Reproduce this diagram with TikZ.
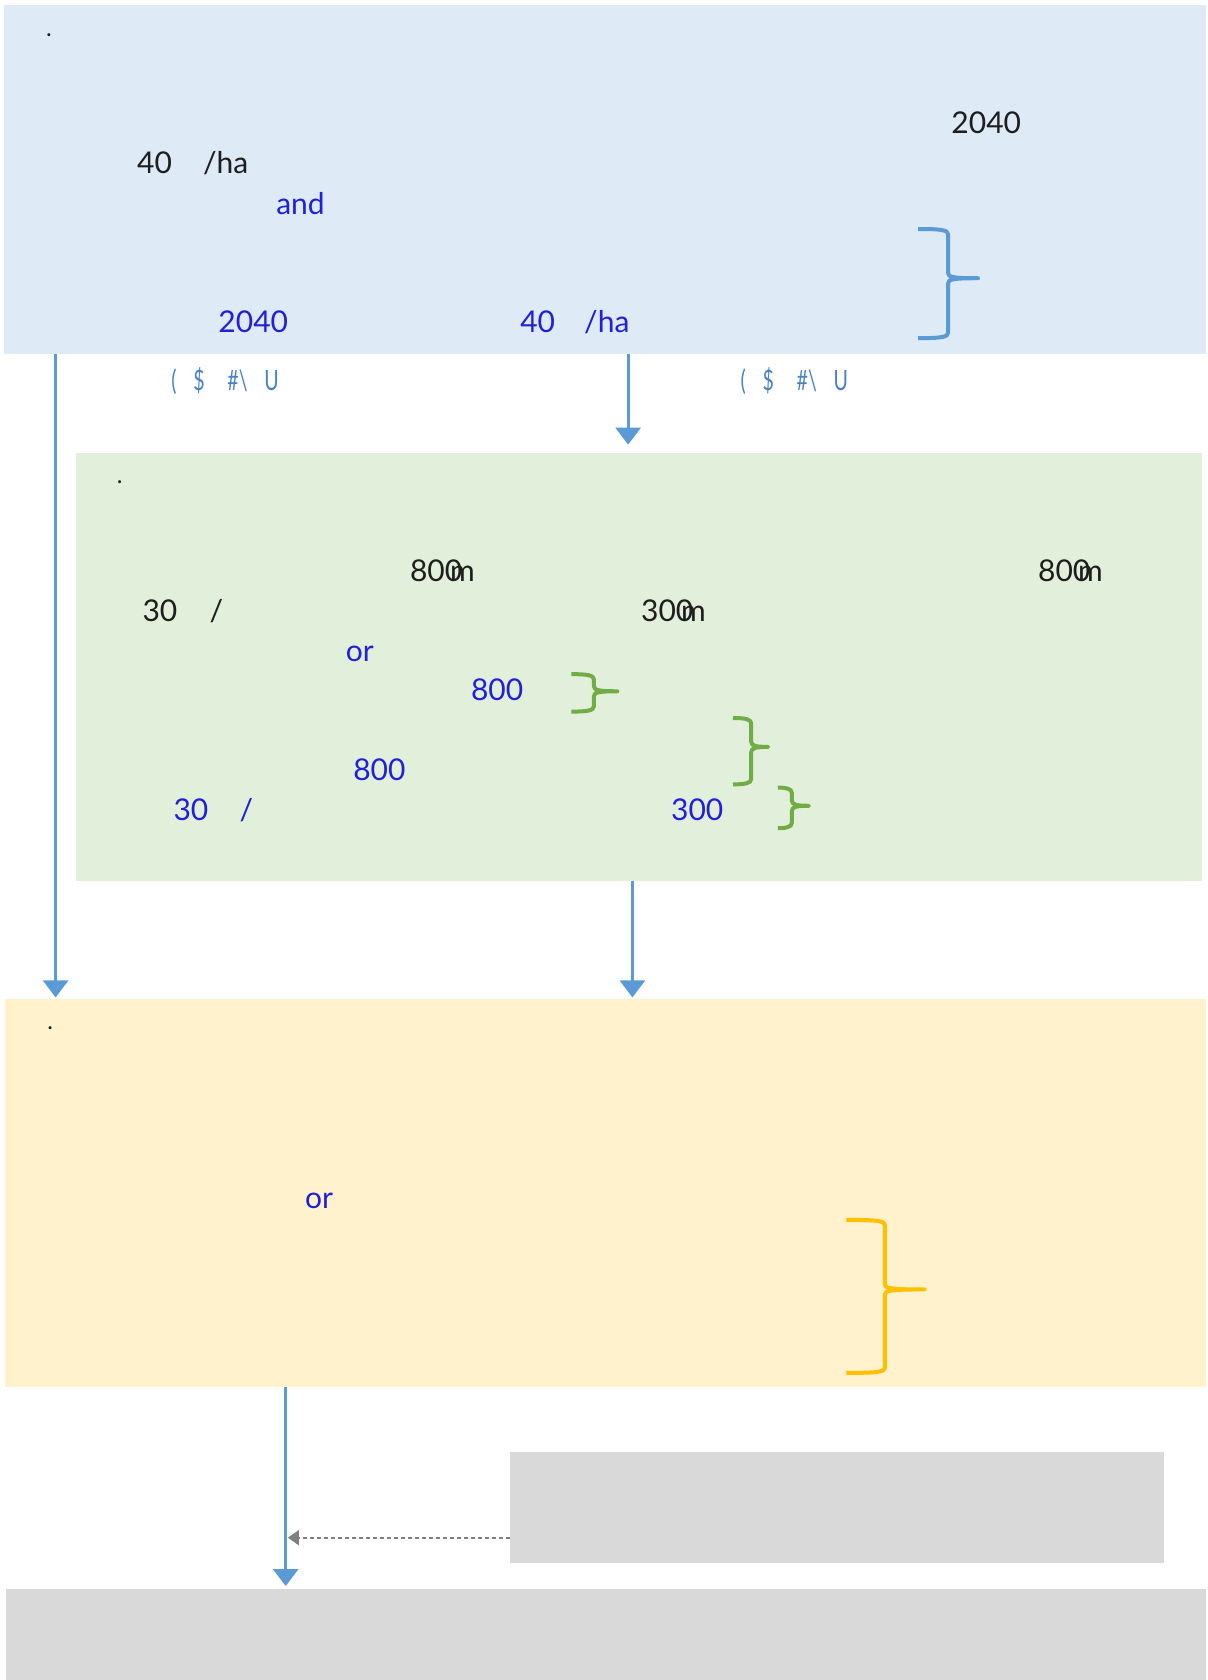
\documentclass[tikz,border=0pt]{standalone}
\usepackage{fontspec}
\setmainfont{Lato}
\usetikzlibrary{arrows.meta,fit}
\definecolor{bluebg}{RGB}{222,234,246}
\definecolor{greenbg}{RGB}{226,239,218}
\definecolor{yellowbg}{RGB}{255,242,204}
\definecolor{graybg}{RGB}{217,217,217}
\definecolor{arrowblue}{RGB}{91,155,213}
\definecolor{txtblack}{RGB}{30,30,30}
\definecolor{txtblue}{RGB}{32,32,220}
\definecolor{lblblue}{RGB}{70,130,200}
\definecolor{bracegreen}{RGB}{112,173,71}
\definecolor{braceyellow}{RGB}{255,192,0}
\newcommand\mybrace[7]{%
  \draw[bracestyle,#1] (#2,#5) .. controls ({#3-6},#5) and (#3,{#5+1}) .. (#3,{#5+5})
    -- (#3,{#6-5}) .. controls (#3,{#6-1}) and ({#3+4},#6) .. (#4,#6)
    .. controls ({#3+4},#6) and (#3,{#6+1}) .. (#3,{#6+5})
    -- (#3,{#7-5}) .. controls (#3,{#7-1}) and ({#3-6},#7) .. (#2,#7);}
\newcommand\glyphs[1]{\scalebox{0.7}[1]{#1}}
\tikzset{
  box/.style={inner sep=0pt, outer sep=0pt, draw=none},
  txt/.style={inner sep=0pt, anchor=base west, font=\fontsize{30}{34}\selectfont},
  blk/.style={txt, text=txtblack},
  blu/.style={txt, text=txtblue},
  lbl/.style={inner sep=0pt, anchor=base west, font=\fontsize{28}{32}\selectfont, text=lblblue},
  dotlbl/.style={inner sep=0pt, anchor=base west, font=\fontsize{24}{26}\selectfont, text=txtblack},
  flow/.style={draw=arrowblue, line width=3pt, -{Triangle[width=25pt,length=17pt]}},
  hint/.style={draw=gray, line width=1.6pt, dash pattern=on 4pt off 3pt, -{Triangle[width=15pt,length=11pt]}},
  bracestyle/.style={line width=4pt, line cap=butt, line join=round},
}
\begin{document}
\begin{tikzpicture}[x=1.07pt,y=-1.07pt]
\useasboundingbox (0,0) rectangle (1128,1570);
% boxes
\node[box, fill=bluebg, fit={(4,5) (1127,331)}] (b1) {};
\node[box, fill=greenbg, fit={(71,423) (1123,823)}] (b2) {};
\node[box, fill=yellowbg, fit={(5,934) (1127,1296)}] (b3) {};
\node[box, fill=graybg, fit={(477,1357) (1088,1461)}] (g1) {};
\node[box, fill=graybg, fit={(6,1485) (1127,1570)}] (g2) {};
% helper coordinates for connector columns
\coordinate (cL) at (52,0);
\coordinate (cM) at (587,0);
\coordinate (cM2) at (591,0);
\coordinate (cB) at (267,0);
\coordinate (dy) at (0,1437);
\coordinate (hit) at (269,1437);
% connectors
\draw[flow] (b1.south -| cM) -- ([yshift=8pt]b2.north -| cM);
\draw[flow] (b1.south -| cL) -- ([yshift=2pt]b3.north -| cL);
\draw[flow] (b2.south -| cM2) -- ([yshift=2pt]b3.north -| cM2);
\draw[flow] (b3.south -| cB) -- ([yshift=3pt]g2.north -| cB);
\draw[hint] (g1.west |- dy) -- (hit);
% blue box texts
\node[dotlbl] (d1) at (43,34) {.};
\node[blk] (t1) at (889,125) {2040};
\node[blk] (t2) at (128,162) {\makebox[66pt][l]{40}/ha};
\node[blu] (t3) at (258,200) {and};
\node[blu] (t4) at (204,311) {2040};
\node[blu] (t5) at (486,311) {\makebox[64pt][l]{40}/ha};
\node[lbl] (l1) at (160,365) {\makebox[22pt][l]{\glyphs{(}}\makebox[34pt][l]{\glyphs{\$}}\makebox[37pt][l]{\glyphs{\#\textbackslash}}\glyphs{U}};
\node[lbl] (l2) at (692,365) {\makebox[22pt][l]{\glyphs{(}}\makebox[34pt][l]{\glyphs{\$}}\makebox[37pt][l]{\glyphs{\#\textbackslash}}\glyphs{U}};
\mybrace{arrowblue}{858}{886}{914}{214}{260}{316}
% green box texts
\node[dotlbl] (d2) at (109,452) {.};
\node[blk] (t6) at (383,543) {\makebox[40pt][l]{800}m};
\node[blk] (t7) at (970,543) {\makebox[40pt][l]{800}m};
\node[blk] (t8) at (133,581) {\makebox[67pt][l]{30}/};
\node[blk] (t9) at (599,581) {\makebox[40pt][l]{300}m};
\node[blu] (t10) at (323,618) {or};
\node[blu] (t11) at (440,655) {800};
\node[blu] (t12) at (330,729) {800};
\node[blu] (t13) at (162,767) {\makebox[66pt][l]{30}/};
\node[blu] (t14) at (627,767) {300};
\mybrace{bracegreen}{534}{555}{577}{630}{646}{665}
\mybrace{bracegreen}{685}{702}{718}{671}{698}{733}
\mybrace{bracegreen}{727}{740}{756}{736}{753}{774}
% yellow box texts
\node[dotlbl] (d3) at (44,962) {.};
\node[blu] (t15) at (285,1129) {or};
\mybrace{braceyellow}{791}{827}{864}{1140}{1205}{1283}
\end{tikzpicture}
\end{document}
